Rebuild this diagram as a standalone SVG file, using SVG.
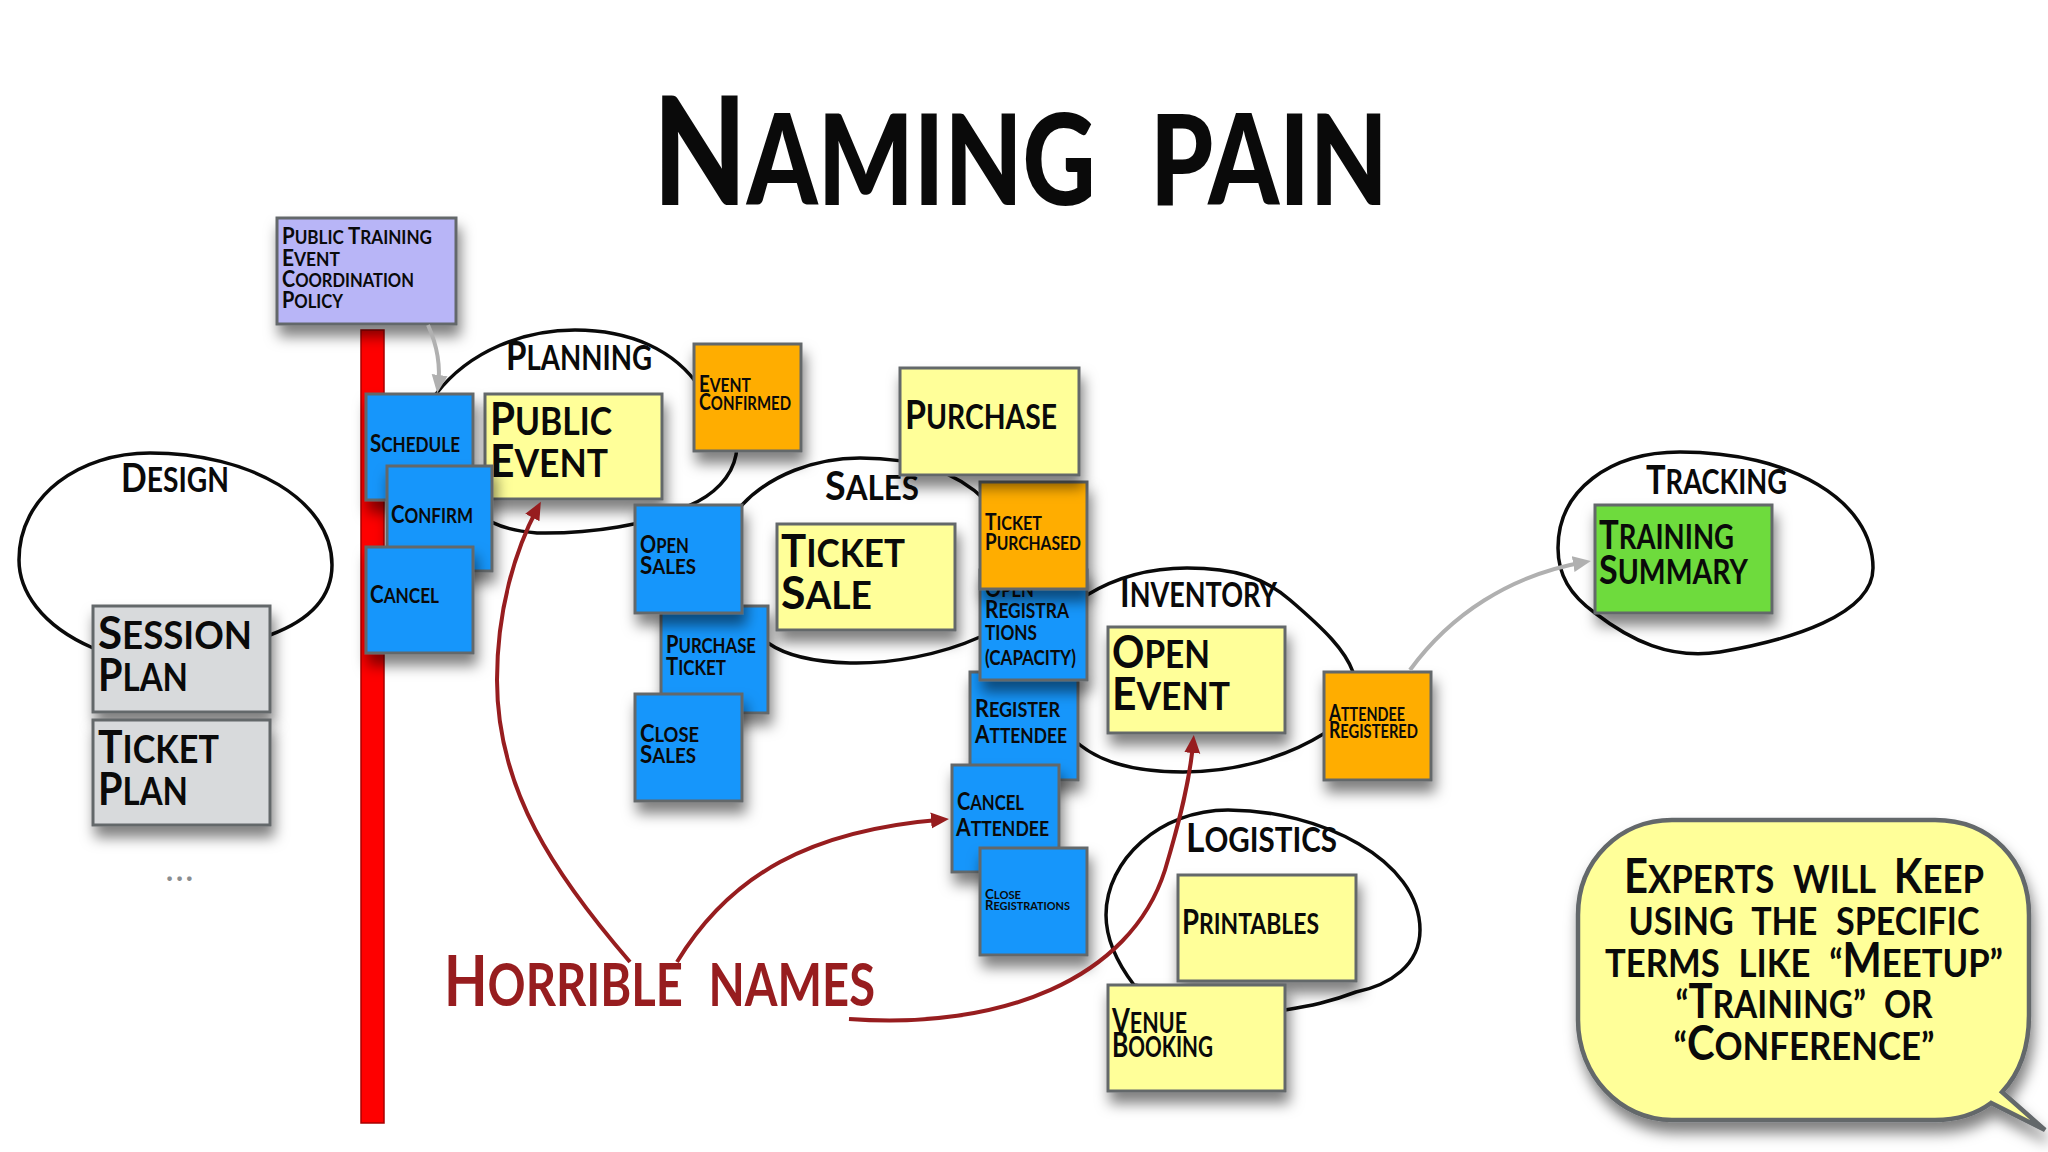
<svg xmlns="http://www.w3.org/2000/svg" width="2048" height="1152" viewBox="0 0 2048 1152">
<style>
text{font-family:Lato,"Open Sans","Liberation Sans",sans-serif;text-transform:uppercase;fill:#0a0a0a;font-weight:700}
.i{font-size:1.2em}
.w{word-spacing:.3em}
.n{stroke:#63676b;stroke-width:3;filter:url(#sh)}
.blue{fill:#1496fb}.yel{fill:#ffff99}.org{fill:#ffad00}.pur{fill:#b8b5f7}.grn{fill:#6edb3c}.gry{fill:#d8dadc}
.blob{fill:none;stroke:#0a0a0a;stroke-width:3.5}
.red{fill:none;stroke:#971d1f;stroke-width:4;marker-end:url(#ar)}
.gra{fill:none;stroke:#b0b0b0;stroke-width:4;marker-end:url(#ag)}
.f12{font-size:10.5px}.f19{font-size:19px}.f23{font-size:21px}.f32{font-size:28px}.f38{font-size:34px}.f44{font-size:38px}.f46{font-size:39px}
</style>
<defs>
<filter id="sh" x="-20%" y="-20%" width="140%" height="150%"><feDropShadow dx="3" dy="11" stdDeviation="7" flood-color="#000" flood-opacity="0.5"/></filter>
<marker id="ar" markerWidth="6" markerHeight="6" refX="3" refY="2" orient="auto" markerUnits="strokeWidth"><path d="M0 0L4.5 2L0 4Z" fill="#971d1f"/></marker>
<marker id="ag" markerWidth="6" markerHeight="6" refX="3" refY="2" orient="auto" markerUnits="strokeWidth"><path d="M0 0L4.5 2L0 4Z" fill="#b0b0b0"/></marker>
</defs>
<rect width="2048" height="1152" fill="#fff"/>
<text id="title" class="w" x="653" y="205" font-size="126" textLength="735" lengthAdjust="spacingAndGlyphs" style="font-weight:900"><tspan class="i">N</tspan>aming pain</text>

<g id="design"><path class="blob" d="M93 648C40 625 19 590 19 560C19 495 80 453 150 453C250 453 332 500 332 565C332 600 305 622 270 635"/><text class="f38" x="121" y="492" textLength="108" lengthAdjust="spacingAndGlyphs"><tspan class="i">D</tspan>esign</text></g>
<g id="planning"><path class="blob" d="M436 394C470 350 525 330 575 330C630 330 675 350 700 388C760 430 740 485 688 506C650 525 590 534 537 533C500 530 480 520 470 500Z"/><text class="f38" x="506" y="370" textLength="146" lengthAdjust="spacingAndGlyphs"><tspan class="i">P</tspan>lanning</text></g>
<g id="sales"><path class="blob" d="M742 505C770 475 815 458 860 458C910 458 955 470 985 500C1020 540 1020 600 980 637C940 655 890 664 850 663C815 662 785 655 768 643C730 620 720 540 742 505Z"/><text class="f38" x="825" y="500" textLength="94" lengthAdjust="spacingAndGlyphs"><tspan class="i">S</tspan>ales</text></g>
<g id="inventory"><path class="blob" d="M1087 595C1115 578 1150 568 1187 568C1235 568 1265 578 1290 600C1325 630 1345 650 1353 672C1362 700 1350 718 1325 733C1285 758 1235 772 1183 772C1140 772 1105 765 1080 745C1040 720 1050 620 1087 595Z"/><text class="f38" x="1120" y="607" textLength="157" lengthAdjust="spacingAndGlyphs"><tspan class="i">I</tspan>nventory</text></g>
<g id="logistics"><path class="blob" d="M1134 985C1115 960 1106 935 1106 915C1106 860 1160 810 1228 810C1320 810 1420 860 1420 930C1420 965 1390 985 1356 992C1330 1002 1310 1006 1285 1010L1134 985Z"/><text class="f38" x="1186" y="852" textLength="151" lengthAdjust="spacingAndGlyphs"><tspan class="i">L</tspan>ogistics</text></g>
<g id="tracking"><path class="blob" d="M1595 613C1570 595 1558 575 1558 548C1558 490 1610 452 1680 452C1790 452 1873 500 1873 568C1873 615 1790 640 1720 652C1670 660 1630 640 1595 613Z"/><text class="f38" x="1646" y="494" textLength="141" lengthAdjust="spacingAndGlyphs"><tspan class="i">T</tspan>racking</text></g>

<rect id="timeline" x="361" y="330" width="23" height="793" fill="#fe0000" stroke="#a80000" stroke-width="1.5"/>

<g id="session-plan"><rect class="n gry" x="93" y="606" width="177" height="106"/><text class="f44" x="98" y="649" textLength="154" lengthAdjust="spacingAndGlyphs"><tspan class="i">S</tspan>ession</text><text class="f44" x="98" y="691" textLength="90" lengthAdjust="spacingAndGlyphs"><tspan class="i">P</tspan>lan</text></g>
<g id="ticket-plan"><rect class="n gry" x="93" y="720" width="177" height="105"/><text class="f44" x="98" y="763" textLength="121" lengthAdjust="spacingAndGlyphs"><tspan class="i">T</tspan>icket</text><text class="f44" x="98" y="805" textLength="90" lengthAdjust="spacingAndGlyphs"><tspan class="i">P</tspan>lan</text></g>
<text id="more" x="166" y="881" font-size="30" textLength="27" lengthAdjust="spacing" style="fill:#8a8d90;font-weight:700">...</text>

<g id="policy"><rect class="n pur" x="277" y="218" width="179" height="106"/><text class="f19" x="282" y="244" textLength="150" lengthAdjust="spacingAndGlyphs"><tspan class="i">P</tspan>ublic <tspan class="i">T</tspan>raining</text><text class="f19" x="282" y="266" textLength="58" lengthAdjust="spacingAndGlyphs"><tspan class="i">E</tspan>vent</text><text class="f19" x="282" y="287" textLength="132" lengthAdjust="spacingAndGlyphs"><tspan class="i">C</tspan>oordination</text><text class="f19" x="282" y="308" textLength="61" lengthAdjust="spacingAndGlyphs"><tspan class="i">P</tspan>olicy</text></g>

<g id="public-event"><rect class="n yel" x="485" y="394" width="177" height="105"/><text class="f44" x="490" y="435" textLength="122" lengthAdjust="spacingAndGlyphs"><tspan class="i">P</tspan>ublic</text><text class="f44" x="490" y="477" textLength="118" lengthAdjust="spacingAndGlyphs"><tspan class="i">E</tspan>vent</text></g>
<g id="schedule"><rect class="n blue" x="366" y="394" width="107" height="106"/><text class="f23" x="370" y="452" textLength="90" lengthAdjust="spacingAndGlyphs"><tspan class="i">S</tspan>chedule</text></g>
<g id="confirm"><rect class="n blue" x="387" y="466" width="105" height="105"/><text class="f23" x="391" y="523" textLength="82" lengthAdjust="spacingAndGlyphs"><tspan class="i">C</tspan>onfirm</text></g>
<g id="cancel"><rect class="n blue" x="366" y="547" width="107" height="106"/><text class="f23" x="370" y="603" textLength="69" lengthAdjust="spacingAndGlyphs"><tspan class="i">C</tspan>ancel</text></g>
<g id="event-confirmed"><rect class="n org" x="694" y="344" width="107" height="107"/><text class="f19" x="699" y="392" textLength="52" lengthAdjust="spacingAndGlyphs"><tspan class="i">E</tspan>vent</text><text class="f19" x="699" y="410" textLength="92" lengthAdjust="spacingAndGlyphs"><tspan class="i">C</tspan>onfirmed</text></g>

<g id="purchase-ticket"><rect class="n blue" x="661" y="606" width="107" height="107"/><text class="f23" x="666" y="653" textLength="90" lengthAdjust="spacingAndGlyphs"><tspan class="i">P</tspan>urchase</text><text class="f23" x="666" y="675" textLength="60" lengthAdjust="spacingAndGlyphs"><tspan class="i">T</tspan>icket</text></g>
<g id="open-sales"><rect class="n blue" x="635" y="505" width="107" height="108"/><text class="f23" x="640" y="553" textLength="49" lengthAdjust="spacingAndGlyphs"><tspan class="i">O</tspan>pen</text><text class="f23" x="640" y="574" textLength="56" lengthAdjust="spacingAndGlyphs"><tspan class="i">S</tspan>ales</text></g>
<g id="close-sales"><rect class="n blue" x="635" y="694" width="107" height="107"/><text class="f23" x="640" y="742" textLength="59" lengthAdjust="spacingAndGlyphs"><tspan class="i">C</tspan>lose</text><text class="f23" x="640" y="763" textLength="56" lengthAdjust="spacingAndGlyphs"><tspan class="i">S</tspan>ales</text></g>
<g id="ticket-sale"><rect class="n yel" x="777" y="524" width="178" height="106"/><text class="f44" x="781" y="567" textLength="124" lengthAdjust="spacingAndGlyphs"><tspan class="i">T</tspan>icket</text><text class="f44" x="781" y="609" textLength="91" lengthAdjust="spacingAndGlyphs"><tspan class="i">S</tspan>ale</text></g>

<g id="register-attendee"><rect class="n blue" x="970" y="672" width="108" height="108"/><text class="f23" x="975" y="717" textLength="85" lengthAdjust="spacingAndGlyphs"><tspan class="i">R</tspan>egister</text><text class="f23" x="975" y="743" textLength="92" lengthAdjust="spacingAndGlyphs"><tspan class="i">A</tspan>ttendee</text></g>
<g id="open-registrations"><rect class="n blue" x="980" y="570" width="107" height="110"/><text class="f23" x="985" y="597" textLength="49" lengthAdjust="spacingAndGlyphs"><tspan class="i">O</tspan>pen</text><text class="f23" x="985" y="618" textLength="84" lengthAdjust="spacingAndGlyphs"><tspan class="i">R</tspan>egistra</text><text class="f23" x="985" y="640" textLength="52" lengthAdjust="spacingAndGlyphs">tions</text><text class="f23" x="985" y="665" textLength="91" lengthAdjust="spacingAndGlyphs">(capacity)</text></g>
<g id="ticket-purchased"><rect class="n org" x="980" y="482" width="107" height="107"/><text class="f19" x="985" y="530" textLength="57" lengthAdjust="spacingAndGlyphs"><tspan class="i">T</tspan>icket</text><text class="f19" x="985" y="550" textLength="96" lengthAdjust="spacingAndGlyphs"><tspan class="i">P</tspan>urchased</text></g>
<g id="purchase"><rect class="n yel" x="900" y="368" width="179" height="107"/><text class="f38" x="905" y="429" textLength="152" lengthAdjust="spacingAndGlyphs"><tspan class="i">P</tspan>urchase</text></g>
<g id="cancel-attendee"><rect class="n blue" x="952" y="765" width="107" height="107"/><text class="f23" x="957" y="810" textLength="67" lengthAdjust="spacingAndGlyphs"><tspan class="i">C</tspan>ancel</text><text class="f23" x="956" y="836" textLength="93" lengthAdjust="spacingAndGlyphs"><tspan class="i">A</tspan>ttendee</text></g>
<g id="close-registrations"><rect class="n blue" x="980" y="848" width="107" height="107"/><text class="f12" x="985" y="899" textLength="36" lengthAdjust="spacingAndGlyphs"><tspan class="i">C</tspan>lose</text><text class="f12" x="985" y="910" textLength="85" lengthAdjust="spacingAndGlyphs"><tspan class="i">R</tspan>egistrations</text></g>

<g id="open-event"><rect class="n yel" x="1108" y="627" width="177" height="106"/><text class="f44" x="1112" y="668" textLength="98" lengthAdjust="spacingAndGlyphs"><tspan class="i">O</tspan>pen</text><text class="f44" x="1112" y="710" textLength="118" lengthAdjust="spacingAndGlyphs"><tspan class="i">E</tspan>vent</text></g>
<g id="attendee-registered"><rect class="n org" x="1324" y="672" width="107" height="108"/><text class="f19" x="1329" y="721" textLength="76" lengthAdjust="spacingAndGlyphs"><tspan class="i">A</tspan>ttendee</text><text class="f19" x="1329" y="738" textLength="89" lengthAdjust="spacingAndGlyphs"><tspan class="i">R</tspan>egistered</text></g>
<g id="training-summary"><rect class="n grn" x="1595" y="505" width="177" height="108"/><text class="f38" x="1599" y="549" textLength="135" lengthAdjust="spacingAndGlyphs"><tspan class="i">T</tspan>raining</text><text class="f38" x="1599" y="584" textLength="149" lengthAdjust="spacingAndGlyphs"><tspan class="i">S</tspan>ummary</text></g>
<g id="printables"><rect class="n yel" x="1178" y="875" width="178" height="106"/><text class="f32" x="1182" y="934" textLength="137" lengthAdjust="spacingAndGlyphs"><tspan class="i">P</tspan>rintables</text></g>
<g id="venue-booking"><rect class="n yel" x="1108" y="985" width="177" height="106"/><text class="f32" x="1112" y="1033" textLength="75" lengthAdjust="spacingAndGlyphs"><tspan class="i">V</tspan>enue</text><text class="f32" x="1112" y="1057" textLength="101" lengthAdjust="spacingAndGlyphs"><tspan class="i">B</tspan>ooking</text></g>

<g id="callout"><path class="n yel" style="stroke-width:4.5" d="M1672 820H1935C1990 820 2029 860 2029 915V1015C2029 1050 2018 1075 2002 1092L2045 1130L1991 1103C1975 1115 1955 1120 1935 1120H1672C1620 1120 1578 1075 1578 1020V915C1578 860 1620 820 1672 820Z"/>
<g text-anchor="middle"><text class="f46 w" x="1804" y="893" textLength="360" lengthAdjust="spacingAndGlyphs"><tspan class="i">E</tspan>xperts will <tspan class="i">K</tspan>eep</text><text class="f46 w" x="1804" y="935" textLength="351" lengthAdjust="spacingAndGlyphs">using the specific</text><text class="f46 w" x="1804" y="977" textLength="398" lengthAdjust="spacingAndGlyphs">terms like “<tspan class="i">M</tspan>eetup”</text><text class="f46 w" x="1804" y="1018" textLength="257" lengthAdjust="spacingAndGlyphs">“<tspan class="i">T</tspan>raining” or</text><text class="f46 w" x="1804" y="1060" textLength="261" lengthAdjust="spacingAndGlyphs">“<tspan class="i">C</tspan>onference”</text></g></g>

<text id="horrible" class="w" x="444" y="1006" font-size="59" textLength="431" lengthAdjust="spacingAndGlyphs" style="fill:#971d1f"><tspan class="i">H</tspan>orrible names</text>

<g id="connectors">
<path class="gra" d="M428 325C437 345 441 365 438 387"/>
<path class="gra" d="M1410 670C1450 615 1510 575 1585 562"/>
<path class="red" d="M630 962C555 875 497 790 497 680C497 610 515 550 538 507"/>
<path class="red" d="M677 962C730 875 810 830 943 819.5"/>
<path class="red" d="M849 1019C1000 1030 1130 980 1165 870C1180 820 1190 780 1193.3 741"/>
</g>
</svg>
